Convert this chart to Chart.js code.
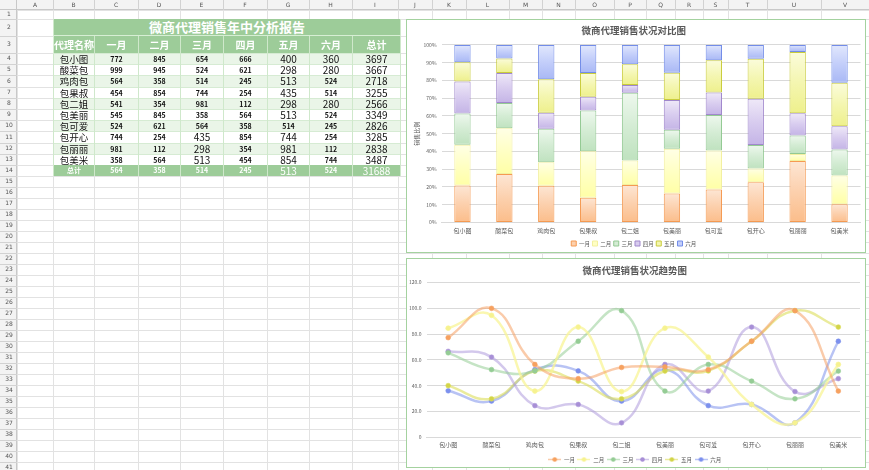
<!DOCTYPE html>
<html>
<head>
<meta charset="utf-8">
<script src="https://cdn.jsdelivr.net/npm/chart.js@4.4.1/dist/chart.umd.min.js"></script>
<style>
  html, body { margin: 0; padding: 0; background: #fff; }
  body { width: 869px; height: 470px; position: relative; overflow: hidden;
         font-family: "Noto Sans CJK SC", "Noto Sans", sans-serif; }
  #sheet { position: absolute; left: 0; top: 0; }
  #report { position: absolute; left: 53px; top: 19px; border-collapse: collapse;
            table-layout: fixed; width: 347px; }
  #report td { padding: 0; text-align: center; overflow: hidden; white-space: nowrap;
               border-left: 1px solid #cfe8cb; border-right: 1px solid #cfe8cb; }
  #report tr.title td { background: #9dcc99; color: #fff; font-weight: bold; font-size: 13px;
                        height: 16px; line-height: 16px; border-bottom: 1px solid #d7eed4; }
  #report tr.head td { background: #9dcc99; color: #fff; font-weight: bold; font-size: 10px;
                       height: 17px; line-height: 17px; border-left: 1px solid #d7eed4; }
  #report tr.row td { height: 10.2px; line-height: 10px; font-size: 7px; font-weight: bold; color: #111;
                      border-top: 1px solid #d6ebd3; }
  #report tr.row:nth-child(odd) td { background: #eaf5e8; }
  #report tr.row:nth-child(even) td { background: #fff; }
  #report tr.row td.name { font-size: 9.5px; font-weight: normal; }
  #report td.big { font-size: 10px !important; font-weight: normal !important; }
  #report tr.sum td { background: #9dcc99; color: #fff; font-weight: bold; font-size: 7px;
                      height: 11px; line-height: 11px; }
  .box { position: absolute; box-sizing: border-box; border: 1.5px solid #a4d29f; background: #fff; }
  #box1 { left: 406px; top: 19px; width: 460px; height: 234px; }
  #box2 { left: 406px; top: 258px; width: 460px; height: 210px; }
</style>
</head>
<body>
<canvas id="sheet" width="869" height="470"></canvas>
<table id="report"></table>
<div class="box" id="box1"><canvas id="barChart"></canvas></div>
<div class="box" id="box2"><canvas id="lineChart"></canvas></div>
<script>
// ---- data ----
const agents = ['包小图', '酸菜包', '鸡肉包', '包果叔', '包二姐', '包美丽', '包可爱', '包开心', '包丽丽', '包美米'];
const months = ['一月', '二月', '三月', '四月', '五月', '六月'];
const jan = [772, 999, 564, 454, 541, 545, 524, 744, 981, 358];
const feb = [845, 945, 358, 854, 354, 845, 621, 254, 112, 564];
const mar = [654, 524, 514, 744, 981, 358, 564, 435, 298, 513];
const apr = [666, 621, 245, 254, 112, 564, 358, 854, 354, 454];
const may = [400, 298, 513, 435, 298, 513, 514, 744, 981, 854];
const jun = [360, 280, 524, 514, 280, 524, 245, 254, 112, 744];
const totals = [3697, 3667, 2718, 3255, 2566, 3349, 2826, 3285, 2838, 3487];
const sumRow = [564, 358, 514, 245, 513, 524, 31688];
const pctTicks = [0, 10, 20, 30, 40, 50, 60, 70, 80, 90, 100];
const seriesByMonth = [jan, feb, mar, apr, may, jun];

// cells shown in the larger font (row, column)
const bigCells = ['0,4', '0,5', '0,6', '1,4', '1,5', '1,6', '2,4', '2,6', '3,4', '3,6', '4,4', '4,5', '4,6',
  '5,4', '5,6', '6,6', '7,2', '7,4', '7,6', '8,2', '8,4', '8,6', '9,2', '9,4', '9,6'];
const bigSum = [4, 6];

// ---- spreadsheet background ----
(function drawSheet() {
  const c = document.getElementById('sheet').getContext('2d');
  const rowsY = [10, 19, 36, 53];
  for (let k = 1; k <= 11; k++) rowsY.push(53 + 11.2 * k);
  while (rowsY[rowsY.length - 1] < 470) rowsY.push(rowsY[rowsY.length - 1] + 11);
  const colX = [17, 53, 94, 138, 180, 223, 267, 309, 352, 398, 432, 466, 509, 542, 575, 614, 646, 675, 703, 728, 767, 821, 869];
  const letters = 'ABCDEFGHIJKLMNOPQRSTUV';
  c.fillStyle = '#fff'; c.fillRect(0, 0, 869, 470);
  c.strokeStyle = '#e2e2e2'; c.lineWidth = 1;
  rowsY.forEach(y => { c.beginPath(); c.moveTo(17, Math.round(y) + 0.5); c.lineTo(869, Math.round(y) + 0.5); c.stroke(); });
  colX.forEach(x => { c.beginPath(); c.moveTo(x + 0.5, 10); c.lineTo(x + 0.5, 470); c.stroke(); });
  // headers
  c.fillStyle = '#f3f3f3'; c.fillRect(0, 0, 869, 10); c.fillRect(0, 0, 17, 470);
  c.strokeStyle = '#c8c8c8';
  c.beginPath(); c.moveTo(0, 9.5); c.lineTo(869, 9.5); c.stroke();
  c.beginPath(); c.moveTo(16.5, 0); c.lineTo(16.5, 470); c.stroke();
  c.fillStyle = '#555'; c.font = '6px "DejaVu Sans"'; c.textAlign = 'center'; c.textBaseline = 'middle';
  for (let i = 0; i < colX.length - 1; i++) {
    c.fillText(letters[i], (colX[i] + colX[i + 1]) / 2, 5);
    c.strokeStyle = '#d2d2d2';
    c.beginPath(); c.moveTo(colX[i + 1] + 0.5, 0); c.lineTo(colX[i + 1] + 0.5, 10); c.stroke();
  }
  for (let r = 0; r < rowsY.length - 1; r++) {
    c.fillText(String(r + 1), 9, (rowsY[r] + rowsY[r + 1]) / 2);
    c.strokeStyle = '#d2d2d2';
    c.beginPath(); c.moveTo(0, Math.round(rowsY[r + 1]) + 0.5); c.lineTo(17, Math.round(rowsY[r + 1]) + 0.5); c.stroke();
  }
})();

// ---- report table ----
(function buildTable() {
  const t = document.getElementById('report');
  const widths = [41, 44, 42, 43, 44, 42, 43, 48];
  let html = '<colgroup>' + widths.map(w => '<col style="width:' + w + 'px">').join('') + '</colgroup>';
  html += '<tr class="title"><td colspan="8">微商代理销售年中分析报告</td></tr>';
  html += '<tr class="head"><td>代理名称</td>' + months.map(m => '<td>' + m + '</td>').join('') + '<td>总计</td></tr>';
  agents.forEach((a, r) => {
    const vals = seriesByMonth.map(s => s[r]).concat([totals[r]]);
    html += '<tr class="row"><td class="name">' + a + '</td>' +
      vals.map((v, c) => '<td' + (bigCells.includes(r + ',' + c) ? ' class="big"' : '') + '>' + v + '</td>').join('') + '</tr>';
  });
  html += '<tr class="sum"><td>总计</td>' +
    sumRow.map((v, c) => '<td' + (bigSum.includes(c) ? ' class="big"' : '') + '>' + v + '</td>').join('') + '</tr>';
  t.innerHTML = html;
})();

// ---- shared styling ----
const border = ['#f59a52', '#f3f0a0', '#93c993', '#a087cc', '#c9cc3c', '#728ce8'];
const topC = ['#fde6d4', '#ffffe6', '#eef8ee', '#efe9f8', '#fbfcdc', '#e2e8fd'];
const midC = ['#fcd0ad', '#ffffc4', '#d4ecd4', '#d8ccef', '#f4f6b0', '#c3cefa'];
const botC = ['#fbbd8a', '#ffffa6', '#bfe2bf', '#c4b4e6', '#eef08c', '#a9b8f5'];
const lineC = ['rgba(246,160,100,0.55)', 'rgba(248,244,150,0.75)', 'rgba(150,205,150,0.55)',
  'rgba(175,155,220,0.55)', 'rgba(220,222,90,0.6)', 'rgba(125,145,235,0.55)'];
const dotC = ['#f6a15f', '#f6f290', '#95cc95', '#a88fd6', '#d2d449', '#7c90ee'];
const textGray = '#595959';
const cjk = '"Noto Sans CJK SC", "Noto Sans", sans-serif';

// percentage shares for the stacked chart, computed from the table
const pct = seriesByMonth.map(s => s.map((v, i) => v / totals[i] * 100));
const cum = pct.map((p, m) => p.map((v, i) => pct.slice(0, m + 1).reduce((acc, q) => acc + q[i], 0)));

function barFill(m) {
  return (ctx) => {
    const chart = ctx.chart, ys = chart.scales && chart.scales.y;
    if (ctx.type !== 'data' || !ys || !chart.chartArea) return midC[m];
    const i = ctx.dataIndex;
    const y0 = ys.getPixelForValue(cum[m][i]);
    const y1 = ys.getPixelForValue(cum[m][i] - pct[m][i]);
    if (!isFinite(y0) || !isFinite(y1) || y1 - y0 < 1) return midC[m];
    const g = chart.ctx.createLinearGradient(0, y0, 0, y1);
    g.addColorStop(0, topC[m]);
    g.addColorStop(0.5, midC[m]);
    g.addColorStop(1, botC[m]);
    return g;
  };
}

Chart.defaults.font.family = cjk;
Chart.defaults.color = textGray;
Chart.defaults.animation = false;

new Chart(document.getElementById('barChart'), {
  type: 'bar',
  data: {
    labels: agents,
    datasets: months.map((m, k) => ({
      label: m,
      data: pct[k],
      backgroundColor: barFill(k),
      borderColor: border[k],
      borderWidth: 1,
      borderSkipped: false,
      barPercentage: 0.39,
      categoryPercentage: 1
    }))
  },
  options: {
    responsive: true,
    maintainAspectRatio: false,
    layout: { padding: { left: 0, right: 4.5, top: 0, bottom: -4.25 } },
    plugins: {
      title: { display: true, text: '微商代理销售状况对比图', color: textGray,
               font: { size: 9.5, weight: 'bold' }, padding: { top: 5, bottom: 8.5 } },
      legend: {
        position: 'bottom',
        labels: {
          boxWidth: 5, boxHeight: 5, padding: 2.5, font: { size: 5.5 }, color: textGray,
          generateLabels: (chart) => chart.data.datasets.map((ds, i) => ({
            text: ds.label, fillStyle: midC[i], strokeStyle: border[i], lineWidth: 1,
            hidden: false, datasetIndex: i, fontColor: textGray
          }))
        }
      },
      tooltip: { enabled: false }
    },
    scales: {
      x: {
        stacked: true,
        grid: { display: false, drawTicks: false },
        border: { color: '#d9d9d9' },
        ticks: { font: { size: 6 }, color: textGray, padding: 4.4 },
        afterFit: (s) => { s.height = 15.75; }
      },
      y: {
        stacked: true, min: 0, max: 100,
        afterBuildTicks: (axis) => { axis.ticks = pctTicks.map(v => ({ value: v })); },
        grid: { color: '#d9d9d9', drawTicks: false },
        border: { display: false },
        title: { display: true, text: '销售比例', font: { size: 6 }, color: textGray, padding: 6 },
        ticks: { font: { size: 5 }, color: textGray, padding: 5, callback: v => v + '%' },
        afterFit: (s) => { s.width = 34.5; }
      }
    }
  }
});

function legendIcon(k) {
  const c = document.createElement('canvas');
  c.width = 13; c.height = 7;
  const g = c.getContext('2d');
  g.strokeStyle = lineC[k]; g.lineWidth = 1.5;
  g.beginPath(); g.moveTo(0, 3.5); g.lineTo(13, 3.5); g.stroke();
  g.fillStyle = dotC[k];
  g.beginPath(); g.arc(6.5, 3.5, 2.3, 0, Math.PI * 2); g.fill();
  return c;
}
const icons = months.map((m, k) => legendIcon(k));

new Chart(document.getElementById('lineChart'), {
  type: 'line',
  data: {
    labels: agents,
    datasets: months.map((m, k) => ({
      label: m,
      data: seriesByMonth[k].map(v => v / 10),
      borderColor: lineC[k],
      borderWidth: 2.5,
      tension: 0.45,
      pointRadius: 2.4,
      pointBackgroundColor: dotC[k],
      pointBorderColor: lineC[k],
      pointBorderWidth: 1
    }))
  },
  options: {
    responsive: true,
    maintainAspectRatio: false,
    layout: { padding: { left: 0, right: 2.5, top: 0, bottom: -5.25 } },
    plugins: {
      title: { display: true, text: '微商代理销售状况趋势图', color: textGray,
               font: { size: 9.5, weight: 'bold' }, padding: { top: 6, bottom: 6 } },
      legend: {
        position: 'bottom',
        labels: {
          usePointStyle: true, pointStyleWidth: 13, boxHeight: 7, padding: 2.5,
          font: { size: 5.5 }, color: textGray,
          generateLabels: (chart) => chart.data.datasets.map((ds, i) => ({
            text: ds.label, pointStyle: icons[i], fillStyle: dotC[i], strokeStyle: lineC[i],
            lineWidth: 0, hidden: false, datasetIndex: i, fontColor: textGray
          }))
        }
      },
      tooltip: { enabled: false }
    },
    scales: {
      x: {
        offset: true,
        grid: { display: false, drawTicks: false },
        border: { color: '#d9d9d9' },
        ticks: { font: { size: 6 }, color: textGray, padding: 3.4 },
        afterFit: (s) => { s.height = 17; }
      },
      y: {
        min: 0, max: 120,
        ticks: { stepSize: 20, font: { size: 5 }, color: textGray, padding: 5,
                 callback: v => v === 0 ? '0' : v.toFixed(1) },
        grid: { color: '#d9d9d9', drawTicks: false },
        border: { display: false },
        afterFit: (s) => { s.width = 19.5; }
      }
    }
  }
});
</script>
</body>
</html>
